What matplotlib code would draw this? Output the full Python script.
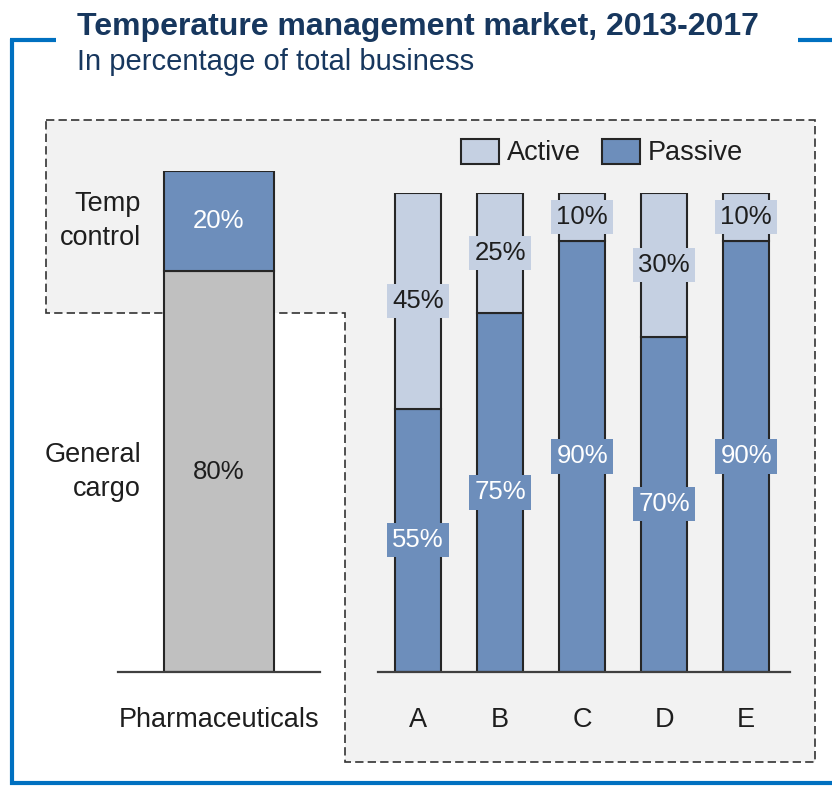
import matplotlib
matplotlib.use("Agg")
import matplotlib.pyplot as plt
from matplotlib.patches import Polygon, Patch
from matplotlib.lines import Line2D

plt.rcParams['font.family'] = ['Liberation Sans', 'DejaVu Sans']

# ---- data ----
title = "Temperature management market, 2013-2017"
subtitle = "In percentage of total business"
left_category = ["Pharmaceuticals"]
left_general = [80]
left_temp = [20]
left_seg_names = ["General\ncargo", "Temp\ncontrol"]
categories = ["A", "B", "C", "D", "E"]
passive = [55, 75, 90, 70, 90]
active = [45, 25, 10, 30, 10]
legend_labels = ["Active", "Passive"]

# ---- style ----
C_ACTIVE = "#C5D0E2"
C_PASSIVE = "#6D8EBB"
C_GRAY = "#C0C0C0"
C_EDGE = "#262626"
C_TEXT = "#1E1E1E"
C_TITLE = "#17375E"
C_BLUE = "#0070C0"
C_BG = "#F2F2F2"

W, H = 832, 788
fig = plt.figure(figsize=(W / 100, H / 100), dpi=100)

# overlay axes in pixel coords for decorations
ov = fig.add_axes([0, 0, 1, 1], zorder=0)
ov.set_xlim(0, W)
ov.set_ylim(H, 0)
ov.axis("off")

region = Polygon([(46, 120), (815, 120), (815, 762), (345, 762), (345, 313), (46, 313)],
                 closed=True, facecolor=C_BG, edgecolor="#333333",
                 linestyle=(0, (5, 2.5)), linewidth=1.2)
ov.add_patch(region)

blue_kw = dict(color=C_BLUE, linewidth=3.0, solid_capstyle="butt")
ov.add_line(Line2D([11.5, 11.5], [38.5, 784.5], **blue_kw))
ov.add_line(Line2D([10, 56], [40, 40], **blue_kw))
ov.add_line(Line2D([798, W], [40, 40], **blue_kw))
ov.add_line(Line2D([10, W], [783, 783], **blue_kw))

fig.text(77 / W, 1 - 35 / H, title, fontsize=23, fontweight="bold",
         color=C_TITLE, ha="left", va="baseline")
fig.text(77 / W, 1 - 70 / H, subtitle, fontsize=21,
         color=C_TITLE, ha="left", va="baseline")

FS = 19.5
FSP = 18.5

# ---- left axes ----
axl = fig.add_axes([118 / W, (H - 672) / H, 202 / W, (672 - 171) / H], zorder=2)
axl.patch.set_alpha(0)
bw_l = 110 / 202
xl = [0]
axl.bar(xl, left_general, width=bw_l, color=C_GRAY, edgecolor=C_EDGE, linewidth=1.5)
axl.bar(xl, left_temp, width=bw_l, bottom=left_general, color=C_PASSIVE,
        edgecolor=C_EDGE, linewidth=1.5)
axl.set_xlim(-0.5, 0.5)
axl.set_ylim(0, 100)
for s in ["top", "left", "right"]:
    axl.spines[s].set_visible(False)
axl.spines["bottom"].set_color("#404040")
axl.spines["bottom"].set_linewidth(1.6)
axl.set_yticks([])
axl.set_xticks(xl)
axl.set_xticklabels(left_category, fontsize=FS, color=C_TEXT)
axl.tick_params(axis="x", length=0, pad=25)

g_mid = left_general[0] / 2
t_mid = left_general[0] + left_temp[0] / 2
axl.text(0, g_mid, f"{left_general[0]}%", ha="center", va="center",
         fontsize=FSP, color=C_TEXT)
axl.text(0, t_mid, f"{left_temp[0]}%", ha="center", va="center",
         fontsize=FSP, color="white")
for name, mid in zip(left_seg_names, [g_mid, t_mid]):
    axl.annotate(name, xy=(-bw_l / 2, mid), xytext=(-16.5, 0),
                 textcoords="offset points", ha="right", va="center",
                 fontsize=FS, color=C_TEXT, linespacing=1.4, multialignment="right")

# ---- right axes ----
axr = fig.add_axes([378 / W, (H - 672) / H, 412 / W, (672 - 193) / H], zorder=2)
axr.patch.set_alpha(0)
x = list(range(len(categories)))
bw = 46 / 82
axr.bar(x, passive, width=bw, color=C_PASSIVE, edgecolor=C_EDGE, linewidth=1.5)
axr.bar(x, active, width=bw, bottom=passive, color=C_ACTIVE, edgecolor=C_EDGE, linewidth=1.5)
axr.set_xlim(-0.49, -0.49 + 412 / 82)
axr.set_ylim(0, 100)
for s in ["top", "left", "right"]:
    axr.spines[s].set_visible(False)
axr.spines["bottom"].set_color("#404040")
axr.spines["bottom"].set_linewidth(1.6)
axr.set_yticks([])
axr.set_xticks(x)
axr.set_xticklabels(categories, fontsize=FS, color=C_TEXT)
axr.tick_params(axis="x", length=0, pad=25)

for xi, p, a in zip(x, passive, active):
    axr.text(xi, p / 2, f"{p}%", ha="center", va="center", fontsize=FSP, color="white",
             bbox=dict(boxstyle="square,pad=0.2", facecolor=C_PASSIVE, edgecolor="none"))
    axr.text(xi, p + a / 2, f"{a}%", ha="center", va="center", fontsize=FSP, color=C_TEXT,
             bbox=dict(boxstyle="square,pad=0.2", facecolor=C_ACTIVE, edgecolor="none"))

handles = [Patch(facecolor=C_ACTIVE, edgecolor=C_EDGE, linewidth=1.5),
           Patch(facecolor=C_PASSIVE, edgecolor=C_EDGE, linewidth=1.5)]
fig.legend(handles, legend_labels, loc="center", ncol=2, frameon=False,
           bbox_to_anchor=(602 / W, 1 - 152.5 / H), fontsize=FS,
           handlelength=1.42, handleheight=1.05, handletextpad=0.3,
           columnspacing=0.75, borderpad=0, labelcolor=C_TEXT)

fig.savefig("out.png", dpi=100)
